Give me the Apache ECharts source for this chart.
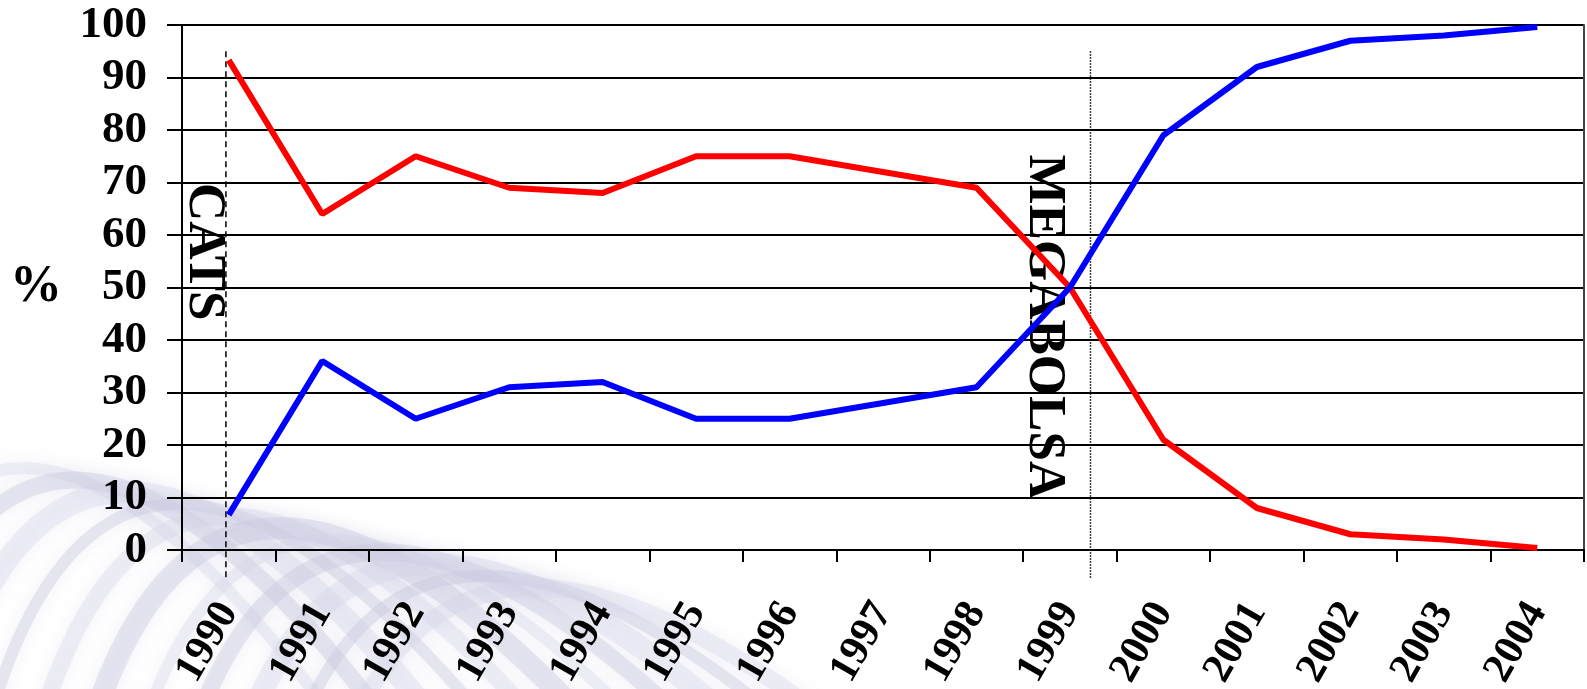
<!DOCTYPE html>
<html><head><meta charset="utf-8">
<script src="https://cdn.jsdelivr.net/npm/echarts@6/dist/echarts.min.js"></script>
<style>html,body{margin:0;padding:0;background:#fff}#c{width:1587px;height:689px}</style>
</head><body><div id="c"></div>
<script>
// ---- data ----
const years = ['1990','1991','1992','1993','1994','1995','1996','1997','1998','1999','2000','2001','2002','2003','2004'];
const redShare  = [93.3, 64, 75, 69, 68, 75, 75, 72, 69, 50, 21, 8, 3, 2, 0.4];
const blueShare = [6.7, 36, 25, 31, 32, 25, 25, 28, 31, 50, 79, 92, 97, 98, 99.6];
const yMin = 0, yMax = 100, yStep = 10;
const eventNames = ['CATS', 'MEGABOLSA'];
const eventLineX = [0.47, 9.72];          // position in category-band units
const eventLineTop = [95, 95];
const eventLineBottom = [-5.3, -5.3];
const eventLineTypes = [[6, 4], [1.5, 1.5]];
const eventTextX = [0.23, 9.22];
const eventTextY = [56.8, 42.5];

const serif = '"Liberation Serif", "Times New Roman", serif';
const chart = echarts.init(document.getElementById('c'));

// decorative background streaks (slide background)
const streaks = [];
for (let i = 0; i < 11; i++) {
  const x0 = -170 + i * 52;
  streaks.push({
    type: 'bezierCurve',
    silent: true,
    z: -10,
    shape: { x1: x0, y1: 730, cpx1: x0 + 90, cpy1: 360 + i * 16, cpx2: x0 + 280, cpy2: 390 + i * 16, x2: x0 + 540, y2: 770 },
    style: { stroke: i % 2 ? 'rgba(196,196,222,0.38)' : 'rgba(210,210,232,0.34)', lineWidth: 12 + (i % 3) * 5, fill: null,
             shadowBlur: 18, shadowColor: 'rgba(200,200,228,0.65)' }
  });
}

const eventSeries = [];
eventNames.forEach((n, k) => {
  eventSeries.push({
    type: 'line', xAxisIndex: 1, yAxisIndex: 0, clip: false, silent: true, symbol: 'none',
    data: [[eventLineX[k], eventLineTop[k]], [eventLineX[k], eventLineBottom[k]]],
    lineStyle: { color: '#000', width: 1.5, type: eventLineTypes[k] }, z: 3
  });
  eventSeries.push({
    type: 'scatter', xAxisIndex: 1, yAxisIndex: 0, silent: true, symbolSize: 1,
    itemStyle: { color: 'rgba(0,0,0,0)', opacity: 1 },
    data: [[eventTextX[k], eventTextY[k]]],
    label: { show: true, position: 'inside', formatter: n, rotate: -90, color: '#000', opacity: 1,
             textBorderWidth: 0, fontFamily: serif, fontWeight: 'bold', fontSize: 53 },
    z: 4
  });
});

chart.setOption({
  animation: false,
  backgroundColor: '#fff',
  graphic: streaks,
  grid: { left: 182, right: 3, top: 25, bottom: 139, containLabel: false, outerBoundsMode: 'none' },
  xAxis: [{
    type: 'category', data: years, boundaryGap: true,
    axisLine: { show: true, lineStyle: { color: '#000', width: 2 } },
    axisTick: { show: true, inside: false, length: 12, interval: 0, lineStyle: { color: '#000', width: 2 } },
    axisLabel: { interval: 0, rotate: 60, margin: 56, color: '#000', fontFamily: serif, fontWeight: 'bold', fontSize: 42 },
    splitLine: { show: false }
  }, {
    type: 'value', min: 0, max: years.length, show: false
  }],
  yAxis: [{
    type: 'value', min: yMin, max: yMax, interval: yStep,
    name: '%', nameLocation: 'middle', nameRotate: 0, nameGap: 120,
    nameTextStyle: { color: '#000', fontFamily: serif, fontWeight: 'bold', fontSize: 52 },
    axisLine: { show: true, lineStyle: { color: '#000', width: 2 } },
    axisTick: { show: true, length: 15, lineStyle: { color: '#000', width: 2 } },
    axisLabel: { margin: 35, color: '#000', fontFamily: serif, fontWeight: 'bold', fontSize: 45 },
    splitLine: { show: true, lineStyle: { color: '#000', width: 2 } }
  }, {
    type: 'value', min: yMin, max: yMax, position: 'right',
    axisLine: { show: true, lineStyle: { color: '#444', width: 2 } },
    axisTick: { show: false }, axisLabel: { show: false }, splitLine: { show: false }
  }],
  series: [
    { name: 'red', type: 'line', data: redShare, symbol: 'none', lineStyle: { color: '#ff0000', width: 6 }, z: 5 },
    { name: 'blue', type: 'line', data: blueShare, symbol: 'none', lineStyle: { color: '#0000ff', width: 6 }, z: 5 }
  ].concat(eventSeries)
});
</script></body></html>
